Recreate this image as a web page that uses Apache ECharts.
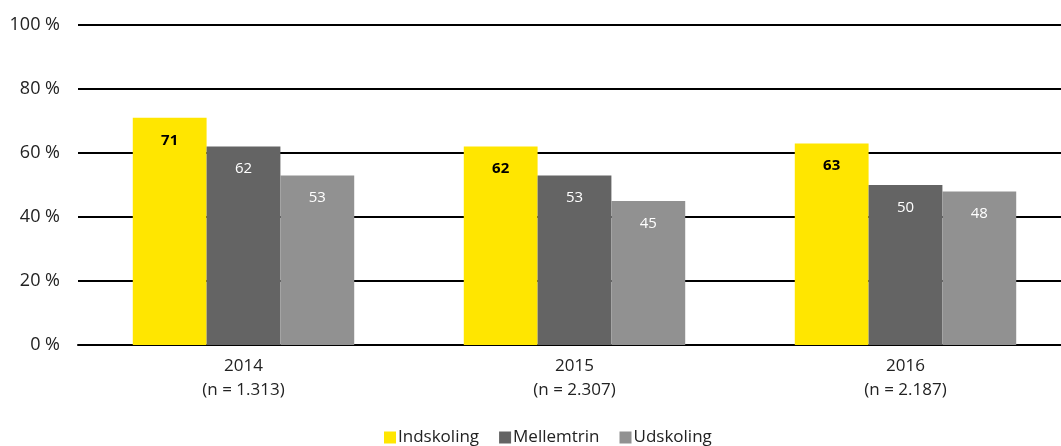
<!doctype html>
<html lang="da">
<head>
    <meta charset="UTF-8">
    <title>Indskoling / Mellemtrin / Udskoling</title>
    <script src="https://cdn.jsdelivr.net/npm/echarts@6/dist/echarts.min.js"></script>
    <style>
        html, body { margin: 0; padding: 0; background: #fff; overflow: hidden; }
        #chart { width: 1071px; height: 446px; }
    </style>
</head>
<body>
<div id="chart"></div>
<script>
    var years = ['2014', '2015', '2016'];
    var nCounts = ['1.313', '2.307', '2.187'];
    var indskoling = [71, 62, 63];
    var mellemtrin = [62, 53, 50];
    var udskoling = [53, 45, 48];
    var yTicks = [0, 20, 40, 60, 80, 100];

    var font = '"Open Sans", "Noto Sans", sans-serif';
    var chart = echarts.init(document.getElementById('chart'));

    function bar(name, data, color, labelColor, bold) {
        return {
            name: name,
            type: 'bar',
            data: data,
            barWidth: '22.3%',
            barGap: '0%',
            itemStyle: { color: color },
            label: {
                show: true,
                position: 'insideTop',
                distance: 15,
                color: labelColor,
                fontFamily: font,
                fontSize: 15,
                fontWeight: bold ? 'bold' : 'normal'
            }
        };
    }

    var option = {
        animation: false,
        // the plot runs a little past the right edge of the page, as in the original
        grid: { left: 78, right: 0, top: 25, bottom: 101 },
        legend: {
            bottom: -5,
            left: 379,
            itemWidth: 12,
            itemHeight: 12,
            itemGap: 20,
            icon: 'rect',
            textStyle: { fontFamily: font, fontSize: 17, color: '#222', padding: [0, 0, 0, -3] },
            data: ['Indskoling', 'Mellemtrin', 'Udskoling']
        },
        xAxis: {
            type: 'category',
            data: years.map(function (y, i) { return y + '\n(n = ' + nCounts[i] + ')'; }),
            axisLine: { lineStyle: { color: '#000', width: 2 } },
            axisTick: { show: false },
            axisLabel: { fontFamily: font, fontSize: 17, color: '#222', lineHeight: 24, margin: 9 }
        },
        yAxis: {
            type: 'value',
            min: 0,
            max: yTicks[yTicks.length - 1],
            interval: 20,
            axisLine: { show: false },
            axisTick: { show: false },
            splitLine: { lineStyle: { color: '#000', width: 2 } },
            axisLabel: {
                fontFamily: font, fontSize: 18, color: '#222', margin: 18,
                formatter: function (v) { return v + ' %'; }
            }
        },
        series: [
            bar('Indskoling', indskoling, '#FFE600', '#000', true),
            bar('Mellemtrin', mellemtrin, '#646464', '#fff', false),
            bar('Udskoling', udskoling, '#919191', '#fff', false)
        ]
    };

    chart.setOption(option);
</script>
</body>
</html>
